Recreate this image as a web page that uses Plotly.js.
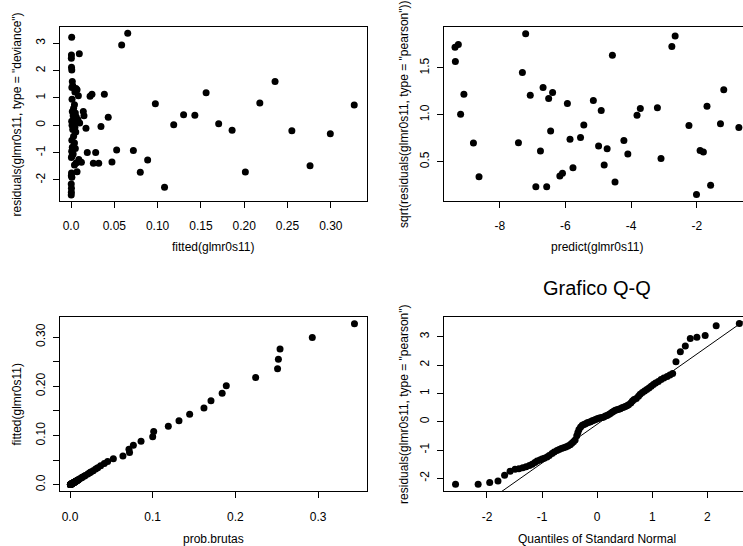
<!DOCTYPE html>
<html><head><meta charset="utf-8">
<script src="https://cdn.plot.ly/plotly-3.0.1.min.js"></script>
<style>html,body{margin:0;padding:0;overflow:hidden;background:#fff}#chart{width:760px;height:546px}</style>
</head><body><div id="chart"></div>
<script>
// ---- data ----
const fitted = [0.0008,0.0005,0.0004,0.0006,0.0009,0.0015,0.0020,0.0010,0.0058,0.0070,
  0.0045,0.0085,0.0096,0.0012,0.0040,0.0030,0.0015,0.0050,0.0025,0.0060,
  0.0008,0.0035,0.0100,0.0012,0.0045,0.0020,0.0055,0.0030,0.0010,0.0040,
  0.0015,0.0050,0.0008,0.0025,0.0012,0.0005,0.0090,0.0120,0.0060,0.0040,
  0.0070,0.0006,0.0004,0.0010,0.0003,0.0005,0.0004,0.0003,0.0220,0.0242,
  0.0385,0.0430,0.0346,0.0173,0.0142,0.0150,0.0188,0.0285,0.0258,0.0320,
  0.0473,0.0080,
  0.0527,0.0585,0.0655,0.0720,0.0800,0.0885,0.0974,0.1080,0.1186,0.1300,
  0.1430,0.1560,0.1705,0.1860,0.2013,0.2180,0.2356,0.2550,0.2760,0.2994,0.3270];
const devianceResid = [3.22,2.57,2.45,2.12,2.02,1.60,1.45,1.38,1.35,1.30,
  1.22,1.08,2.62,0.95,0.75,0.62,0.50,0.45,0.35,0.30,
  0.15,0.10,0.08,0.00,-0.08,-0.15,-0.25,-0.40,-0.55,-0.65,
  -0.80,-0.85,-0.95,-1.05,-1.12,-1.18,-1.25,-1.35,-1.38,-1.45,
  -1.70,-1.75,-1.85,-1.90,-2.15,-2.30,-2.45,-2.55,1.06,1.14,
  1.14,0.29,-0.04,-0.11,0.50,0.35,-1.00,-1.00,-1.39,-1.39,
  -1.34,0.20,
  -0.90,2.94,3.37,-0.92,-1.72,-1.27,0.79,-2.27,0.02,0.39,
  0.37,1.19,0.06,-0.18,-1.71,0.82,1.60,-0.20,-1.48,-0.31,0.74];
const probBrutas = [0.0010,0.0006,0.0005,0.0007,0.0010,0.0016,0.0022,0.0012,0.0060,0.0072,
  0.0047,0.0082,0.0100,0.0013,0.0042,0.0031,0.0016,0.0052,0.0027,0.0062,
  0.0009,0.0037,0.0098,0.0013,0.0047,0.0021,0.0057,0.0032,0.0011,0.0042,
  0.0016,0.0052,0.0009,0.0026,0.0013,0.0006,0.0093,0.0118,0.0063,0.0042,
  0.0072,0.0007,0.0005,0.0011,0.0004,0.0006,0.0005,0.0004,0.0215,0.0238,
  0.0370,0.0415,0.0335,0.0170,0.0140,0.0148,0.0185,0.0280,0.0252,0.0310,
  0.0455,0.0082,
  0.0524,0.0640,0.0720,0.0713,0.0766,0.0859,0.1000,0.1012,0.1189,0.1318,
  0.1447,0.1620,0.1705,0.1840,0.1890,0.2245,0.2510,0.2520,0.2540,0.2930,0.3440];

const predictVals = [-9.36,-9.26,-9.35,-9.09,-9.19,-8.80,-8.63,-7.21,-7.31,-7.07,
  -7.43,-6.90,-6.68,-6.76,-6.51,-6.39,-6.57,-6.45,-6.17,-6.09,
  -5.94,-5.86,-5.77,-5.54,-5.44,-5.15,-4.99,-4.91,-4.73,-4.82,
  -4.57,-4.49,-4.22,-4.10,-3.82,-3.72,-3.20,-3.09,-2.76,-2.66,
  -2.24,-2.01,-1.90,-1.80,-1.69,-1.58,-1.28,-1.18,-0.72];
const sqrtPearson = [1.720,1.748,1.567,1.219,1.006,0.698,0.340,1.862,1.450,1.209,
  0.702,0.234,1.290,0.613,1.173,1.237,0.234,0.826,0.347,0.376,
  1.120,0.740,0.436,0.758,0.890,1.152,0.666,1.046,0.638,0.464,
  1.634,0.283,0.727,0.581,0.996,1.067,1.074,0.535,1.727,1.840,
  0.886,0.149,0.620,0.602,1.092,0.248,0.904,1.266,0.865];

const qqTheoretical = [-2.57,-2.16,-1.95,-1.80,-1.68,-1.58,-1.49,-1.42,-1.35,-1.29,
  -1.23,-1.18,-1.13,-1.09,-1.04,-1.00,-0.96,-0.91,-0.87,-0.82,
  -0.78,-0.73,-0.69,-0.65,-0.61,-0.57,-0.53,-0.49,-0.46,-0.43,
  -0.40,-0.37,-0.35,-0.33,-0.30,-0.27,-0.24,-0.21,-0.18,-0.15,
  -0.12,-0.09,-0.06,-0.03,0.00,0.03,0.06,0.09,0.12,0.15,
  0.18,0.21,0.24,0.27,0.30,0.33,0.36,0.39,0.42,0.45,
  0.48,0.51,0.54,0.57,0.61,0.64,0.67,0.71,0.75,0.78,
  0.82,0.86,0.90,0.94,0.98,1.02,1.06,1.11,1.16,1.21,
  1.27,1.32,1.37,1.43,1.51,1.60,1.69,1.81,1.96,2.16,2.58];
const qqPearson = [-2.21,-2.21,-2.15,-2.09,-1.89,-1.75,-1.68,-1.66,-1.63,-1.59,
  -1.55,-1.50,-1.44,-1.39,-1.35,-1.32,-1.29,-1.25,-1.19,-1.12,
  -1.07,-1.02,-0.98,-0.95,-0.92,-0.89,-0.86,-0.81,-0.76,-0.71,
  -0.65,-0.50,-0.38,-0.28,-0.19,-0.13,-0.10,-0.07,-0.04,-0.02,
  0.00,0.03,0.05,0.08,0.10,0.12,0.14,0.15,0.17,0.20,
  0.22,0.25,0.29,0.33,0.37,0.40,0.42,0.44,0.46,0.49,
  0.51,0.54,0.56,0.60,0.66,0.73,0.78,0.82,0.90,0.97,
  1.03,1.08,1.14,1.19,1.25,1.31,1.37,1.42,1.49,1.54,
  1.60,1.65,1.70,2.12,2.47,2.67,2.94,2.98,3.04,3.39,3.47];
const qqLineIntercept = -0.09;
const qqLineSlope = 1.37;

// tick labels
const x1Ticks = [0,0.05,0.10,0.15,0.20,0.25,0.30];
const x1Text = ["0.0","0.05","0.10","0.15","0.20","0.25","0.30"];
const y1Ticks = [-2,-1,0,1,2,3];
const y1Text = ["-2","-1","0","1","2","3"];
const x2Ticks = [-8,-6,-4,-2];
const x2Text = ["-8","-6","-4","-2"];
const y2Ticks = [0.5,1.0,1.5];
const y2Text = ["0.5","1.0","1.5"];
const x3Ticks = [0,0.1,0.2,0.3];
const x3Text = ["0.0","0.1","0.2","0.3"];
const y3Ticks = [0,0.05,0.10,0.15,0.20,0.25,0.30];
const y3Text = ["0.0","","0.10","","0.20","","0.30"];
const x4Ticks = [-2,-1,0,1,2];
const x4Text = ["-2","-1","0","1","2"];
const y4Ticks = [-2,-1,0,1,2,3];
const y4Text = ["-2","-1","0","1","2","3"];

// ---- layout (pixel geometry) ----
const W = 760, H = 546;
const FONT = "Liberation Sans, Arial, Helvetica, sans-serif";
const px = v => v / W, py = v => (H - v) / H;
const colL = [px(60), px(366.7)], colR = [px(443.7), px(750.4)];
const rowT = [py(201), py(27.3)], rowB = [py(491.3), py(317)];

function axis(domain, range, tv, tt, anchor, isY) {
  return {
    domain, range, anchor, tickmode: 'array', tickvals: tv, ticktext: tt,
    showline: true, mirror: true, linecolor: '#000', linewidth: 1,
    ticks: 'outside', ticklen: 6, tickwidth: 1, tickcolor: '#000',
    showgrid: false, zeroline: false, fixedrange: true,
    tickangle: isY ? -90 : 0, ticklabelstandoff: isY ? 3 : 8,
    tickfont: {family: FONT, size: 12, color: '#000'}
  };
}
const x4Range = [-2.785, 2.781];
const mk = {color: '#000', size: 7};
const traces = [
  {x: fitted, y: devianceResid, xaxis: 'x', yaxis: 'y', mode: 'markers', type: 'scatter', marker: mk},
  {x: predictVals, y: sqrtPearson, xaxis: 'x2', yaxis: 'y2', mode: 'markers', type: 'scatter', marker: mk},
  {x: probBrutas, y: fitted, xaxis: 'x3', yaxis: 'y3', mode: 'markers', type: 'scatter', marker: mk},
  {x: qqTheoretical, y: qqPearson, xaxis: 'x4', yaxis: 'y4', mode: 'markers', type: 'scatter', marker: mk},
  {x: x4Range, y: x4Range.map(v => qqLineIntercept + qqLineSlope * v), xaxis: 'x4', yaxis: 'y4',
   mode: 'lines', type: 'scatter', line: {color: '#000', width: 1}}
];
function ann(text, x, y, angle, size) {
  return {text, x: px(x), y: py(y), xref: 'paper', yref: 'paper', showarrow: false,
    textangle: angle || 0, xanchor: 'center', yanchor: 'middle',
    font: {family: FONT, size: size || 12, color: '#000'}};
}
const layout = {
  width: W, height: H, margin: {l: 0, r: 0, t: 0, b: 0},
  paper_bgcolor: '#fff', plot_bgcolor: '#fff', showlegend: false,
  xaxis: axis(colL, [-0.0127, 0.3414], x1Ticks, x1Text, 'y', false),
  yaxis: axis(rowT, [-2.77, 3.585], y1Ticks, y1Text, 'x', true),
  xaxis2: axis(colR, [-9.705, -0.369], x2Ticks, x2Text, 'y2', false),
  yaxis2: axis(rowT, [0.081, 1.932], y2Ticks, y2Text, 'x2', true),
  xaxis3: axis(colL, [-0.0121, 0.3588], x3Ticks, x3Text, 'y3', false),
  yaxis3: axis(rowB, [-0.0134, 0.3409], y3Ticks, y3Text, 'x3', true),
  xaxis4: axis(colR, x4Range, x4Ticks, x4Text, 'y4', false),
  yaxis4: axis(rowB, [-2.458, 3.697], y4Ticks, y4Text, 'x4', true),
  annotations: [
    ann('fitted(glmr0s11)', 213.3, 247.3),
    ann('residuals(glmr0s11, type = "deviance")', 17.3, 114.2, -90),
    ann('predict(glmr0s11)', 597, 247.3),
    ann('sqrt(residuals(glmr0s11, type = "pearson"))', 403.7, 114.2, -90),
    ann('prob.brutas', 213.3, 538.5),
    ann('fitted(glmr0s11)', 17.3, 404.2, -90),
    ann('Quantiles of Standard Normal', 597, 538.5),
    ann('residuals(glmr0s11, type = "pearson")', 403.7, 404.2, -90),
    ann('Grafico Q-Q', 597, 287.5, 0, 20)
  ]
};
Plotly.newPlot('chart', traces, layout, {staticPlot: true, displayModeBar: false});
</script>
</body></html>
